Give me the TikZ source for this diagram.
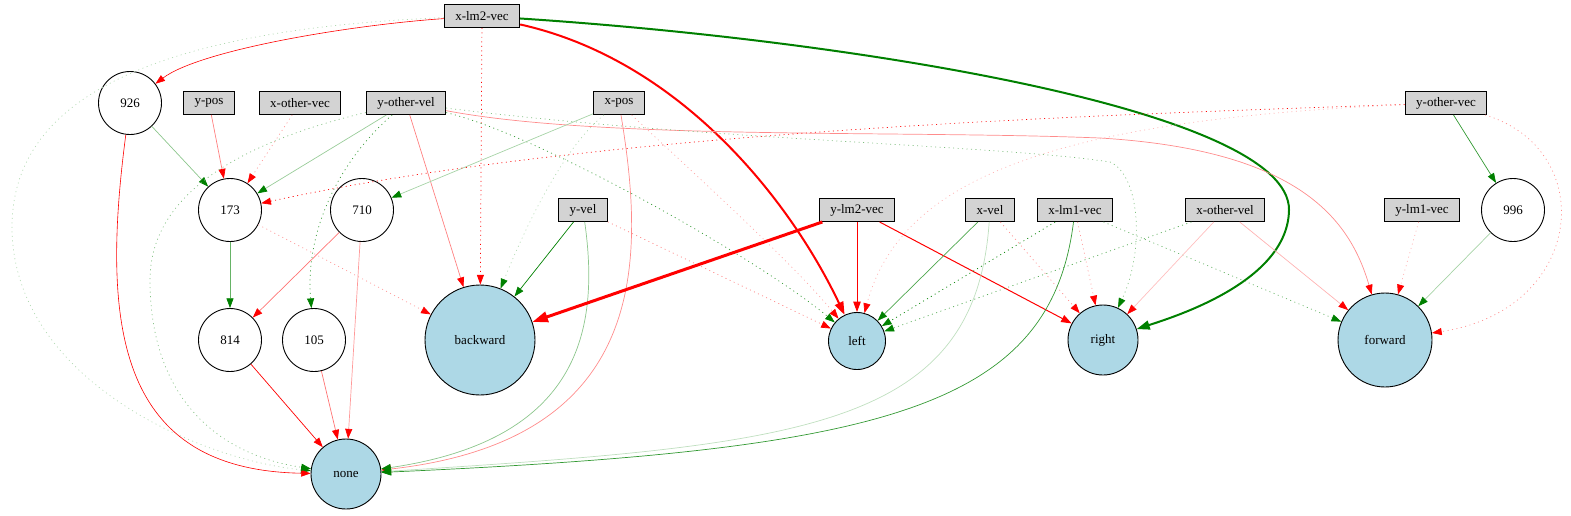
\documentclass[tikz,border=0pt]{standalone}
\usepackage{fontspec}
\setmainfont{Liberation Serif}
\usetikzlibrary{arrows.meta}
\definecolor{dkgreen}{RGB}{0,128,0}
\definecolor{outblue}{RGB}{173,216,230}
\definecolor{boxgray}{RGB}{211,211,211}
\tikzset{
  inbox/.style={rectangle, draw, fill=boxgray, line width=0.9pt, minimum height=23pt, inner xsep=11pt, inner ysep=0pt, font=\fontsize{13}{15}\selectfont},
  hidn/.style={circle, draw, line width=0.9pt, minimum size=63pt, inner sep=0pt, font=\fontsize{13}{15}\selectfont},
  outn/.style={circle, draw, fill=outblue, line width=0.9pt, inner sep=0pt, font=\fontsize{13}{15}\selectfont},
  gr/.style={draw=dkgreen!#1, line width=0.7pt, -{Triangle[length=8pt 2.5,width=6pt 1.5,color=dkgreen]}},
  gr/.default=100,
  rd/.style={draw=red!#1, line width=0.7pt, -{Triangle[length=8pt 2.5,width=6pt 1.5,color=red]}},
  rd/.default=100,
  dots/.style={dash pattern=on 1pt off 3.5pt},
}
\begin{document}
\begin{tikzpicture}[x=1pt,y=-1pt]
\useasboundingbox (0,0) rectangle (1571,515);
% inputs
\node[inbox] (xlm2vec) at (482,16){x-lm2-vec};
\node[inbox] (ypos) at (209,103){y-pos};
\node[inbox] (xothervec) at (300,103){x-other-vec};
\node[inbox] (yothervel) at (406,103){y-other-vel};
\node[inbox] (xpos) at (619,103){x-pos};
\node[inbox] (yothervec) at (1446,103){y-other-vec};
\node[inbox] (yvel) at (583,210){y-vel};
\node[inbox] (ylm2vec) at (857,210){y-lm2-vec};
\node[inbox] (xvel) at (990,210){x-vel};
\node[inbox] (xlm1vec) at (1075,210){x-lm1-vec};
\node[inbox] (xothervel) at (1225,210){x-other-vel};
\node[inbox] (ylm1vec) at (1422,210){y-lm1-vec};
% hidden
\node[hidn] (n926) at (130,103){926};
\node[hidn] (n173) at (230,210){173};
\node[hidn] (n710) at (362,210){710};
\node[hidn] (n996) at (1513,210){996};
\node[hidn] (n814) at (230,340){814};
\node[hidn] (n105) at (314,340){105};
% outputs
\node[outn, minimum size=110pt] (backward) at (480,340){backward};
\node[outn, minimum size=57pt] (left) at (857,341){left};
\node[outn, minimum size=70pt] (right) at (1103,340){right};
\node[outn, minimum size=94pt] (forward) at (1385,340){forward};
\node[outn, minimum size=70pt] (none) at (346,474){none};
% x-lm2-vec
\draw[rd, line width=0.6pt](xlm2vec) .. controls (350,25) and (200,50) .. (n926);
\draw[gr=30, dots](xlm2vec) .. controls (150,30) and (10,100) .. (12,230) .. controls (15,380) and (200,460) .. (none);
\draw[rd, dots](xlm2vec) -- (backward);
\draw[rd, line width=2pt](xlm2vec) .. controls (680,60) and (790,200) .. (left);
\draw[gr, line width=2pt](xlm2vec) .. controls (850,40) and (1290,110) .. (1289,210) .. controls (1288,280) and (1180,315) .. (right);
% second row
\draw[rd=50](ypos) -- (n173);
\draw[rd=40, dots](xothervec) -- (n173);
\draw[gr=45](n926) -- (n173);
\draw[rd, line width=0.6pt](n926) .. controls (100,330) and (120,470) .. (none);
\draw[gr=40](yothervel) -- (n173);
\draw[rd=50](yothervel) -- (backward);
\draw[rd=45](yothervel) .. controls (600,140) and (900,130) .. (1100,138) .. controls (1300,150) and (1350,220) .. (forward);
\draw[gr=80, dots](yothervel) .. controls (540,135) and (760,260) .. (left);
\draw[gr=80, dots](yothervel) .. controls (340,160) and (305,230) .. (n105);
\draw[gr=50, dots](yothervel) .. controls (250,140) and (150,190) .. (150,280) .. controls (150,400) and (220,455) .. (none);
\draw[gr=50, dots](yothervel) .. controls (700,140) and (1000,145) .. (1110,162) .. controls (1140,175) and (1145,250) .. (right);
\draw[gr=35](xpos) -- (n710);
\draw[rd=45](xpos) .. controls (645,260) and (650,440) .. (none);
\draw[gr=30, dots](xpos) .. controls (560,150) and (520,240) .. (backward);
\draw[rd=35, dots](xpos) .. controls (690,170) and (790,260) .. (left);
\draw[rd, dots](yothervec) .. controls (1100,115) and (600,130) .. (n173);
\draw[gr=80](yothervec) -- (n996);
\draw[rd=45, dots](yothervec) .. controls (1600,150) and (1585,310) .. (forward);
\draw[rd=30, dots](yothervec) .. controls (1050,120) and (900,180) .. (left);
% third row
\draw[gr](yvel) -- (backward);
\draw[gr=45](yvel) .. controls (600,330) and (580,440) .. (none);
\draw[rd=50, dots](yvel) -- (left);
\draw[gr=60](n173) -- (n814);
\draw[rd=40, dots](n173) -- (backward);
\draw[rd=55](n710) -- (n814);
\draw[rd=40](n710) -- (none);
\draw[rd, line width=0.7pt](n814) -- (none);
\draw[rd=55](n105) -- (none);
\draw[rd, line width=3pt](ylm2vec) -- (backward);
\draw[rd, line width=1pt](ylm2vec) -- (left);
\draw[rd, line width=1pt](ylm2vec) -- (right);
\draw[gr=70](xvel) -- (left);
\draw[gr=25](xvel) .. controls (975,430) and (800,445) .. (none);
\draw[rd=45, dots](xvel) -- (right);
\draw[gr, dots](xlm1vec) -- (left);
\draw[gr=80](xlm1vec) .. controls (1050,410) and (880,450) .. (none);
\draw[rd=40, dots](xlm1vec) -- (right);
\draw[gr=60, dots](xlm1vec) -- (forward);
\draw[gr=70, dots](xothervel) -- (left);
\draw[rd=25](xothervel) -- (right);
\draw[rd=30](xothervel) -- (forward);
\draw[rd=30, dots](ylm1vec) -- (forward);
\draw[gr=35](n996) -- (forward);
\end{tikzpicture}
\end{document}
